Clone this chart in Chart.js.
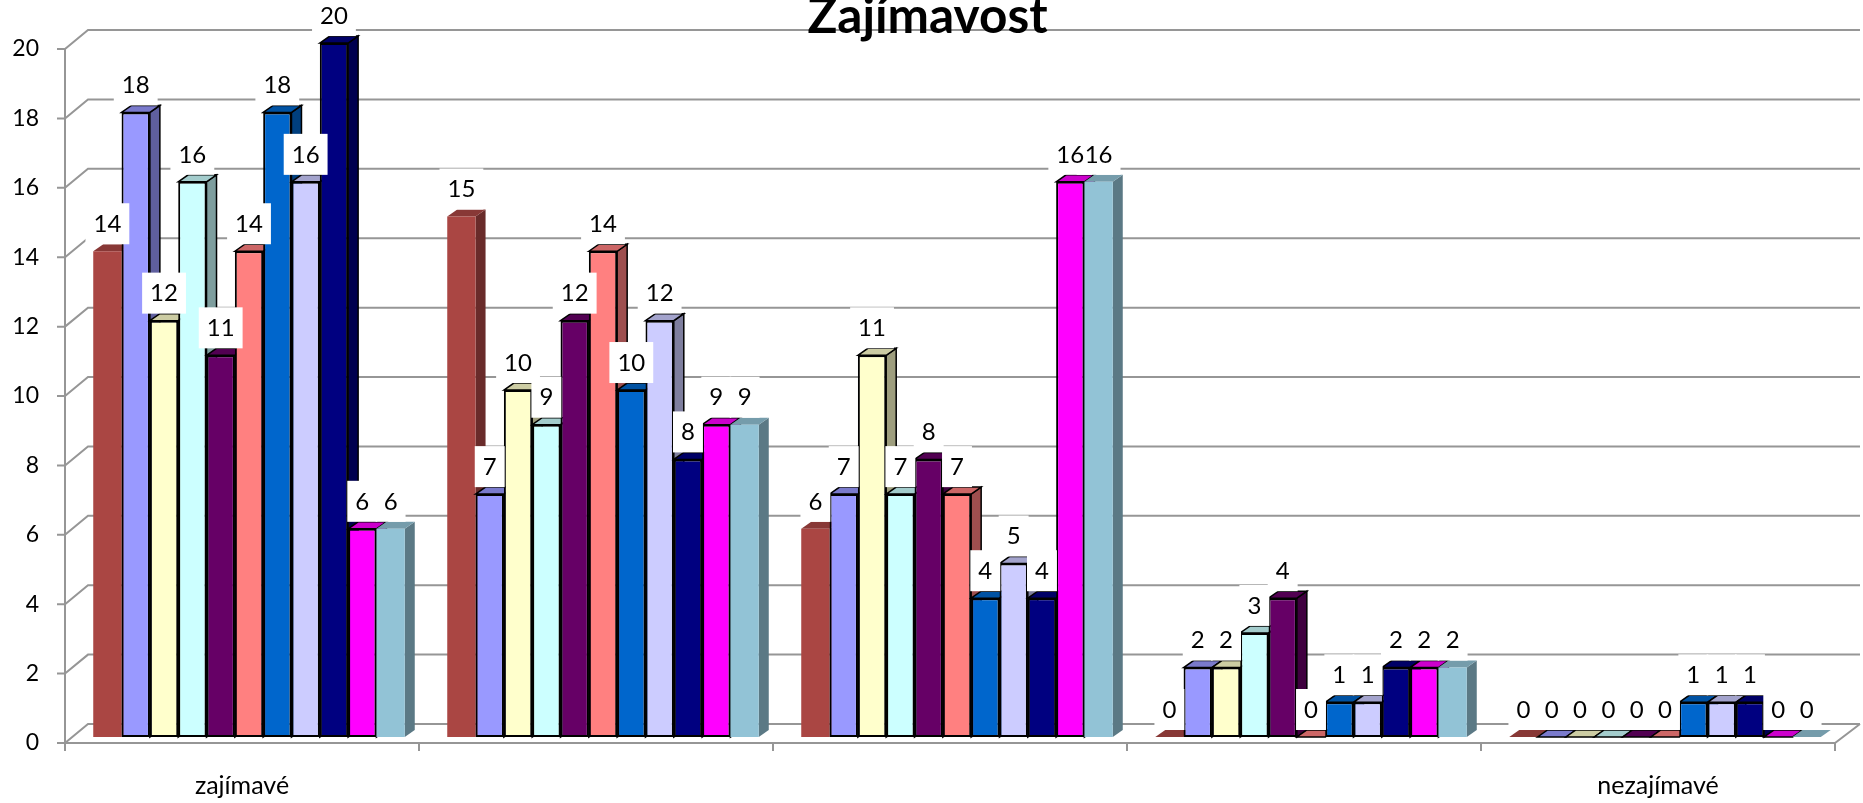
<!DOCTYPE html>
<html><head><meta charset="utf-8">
<style>html,body{margin:0;padding:0;background:#fff}#w{width:1863px;height:803px}</style>
<script src="https://cdn.jsdelivr.net/npm/chart.js@4"></script>
</head><body><div id="w"><canvas id="c" width="1863" height="803"></canvas></div>
<script>
const categories = ['zajímavé', '', '', '', 'nezajímavé'];
const chartTitle = 'Zajímavost';
const yTicks = [0, 2, 4, 6, 8, 10, 12, 14, 16, 18, 20];
const s1 = [14, 15, 6, 0, 0];
const s2 = [18, 7, 7, 2, 0];
const s3 = [12, 10, 11, 2, 0];
const s4 = [16, 9, 7, 3, 0];
const s5 = [11, 12, 8, 4, 0];
const s6 = [14, 14, 7, 0, 0];
const s7 = [18, 10, 4, 1, 1];
const s8 = [16, 12, 5, 1, 1];
const s9 = [20, 8, 4, 2, 1];
const s10 = [6, 9, 16, 2, 0];
const s11 = [6, 9, 16, 2, 0];
const allSeries = [s1, s2, s3, s4, s5, s6, s7, s8, s9, s10, s11];
const colors = ['#AA4643', '#9999FF', '#FFFFCC', '#CCFFFF', '#660066', '#FF8080', '#0066CC', '#CCCCFF', '#000080', '#FF00FF', '#92C3D6'];
const bordered = [false, true, true, true, true, true, true, true, true, true, false];

const FONT = 'Lato, Carlito, sans-serif';
const DX = 10, DY = 7;            // bar depth
const AX = -7, AY = 6;            // front axis offset from the bars' plane
const WX = 23, WY = -19;          // wall offset from the front axis
const GRID = '#969696';

function shade(hex, f) {
  const n = parseInt(hex.slice(1), 16);
  const c = [n >> 16 & 255, n >> 8 & 255, n & 255].map(v => Math.round(v * f));
  return `rgb(${c[0]},${c[1]},${c[2]})`;
}
function line(ctx, pts) {
  ctx.beginPath();
  pts.forEach((p, i) => i ? ctx.lineTo(p[0], p[1]) : ctx.moveTo(p[0], p[1]));
  ctx.stroke();
}
function poly(ctx, pts, fill, stroke) {
  ctx.beginPath();
  pts.forEach((p, i) => i ? ctx.lineTo(p[0], p[1]) : ctx.moveTo(p[0], p[1]));
  ctx.closePath();
  ctx.fillStyle = fill; ctx.fill();
  if (stroke) { ctx.strokeStyle = '#000'; ctx.lineWidth = 1.5; ctx.stroke(); }
}

const walls = {
  id: 'walls',
  beforeDraw(chart) {
    const { ctx, scales: { x, y } } = chart;
    const n = categories.length;
    const step = x.width / n;
    const x0 = x.left + AX, x1 = x.right + AX;
    ctx.save();
    ctx.strokeStyle = GRID; ctx.lineWidth = 2;
    yTicks.forEach(v => {
      const py = y.getPixelForValue(v) + AY;
      line(ctx, [[x0 - 8, py], [x0, py], [x0 + WX, py + WY], [x1 + WX + 2, py + WY]]);
    });
    const y0 = y.getPixelForValue(0) + AY;
    line(ctx, [[x0, y.getPixelForValue(20) + AY], [x0, y0 + 8]]);
    line(ctx, [[x0, y0], [x1, y0], [x1 + WX + 2, y0 + WY]]);
    for (let i = 1; i <= n; i++) {
      const px = x0 + step * i;
      line(ctx, [[px, y0], [px, y0 + 8]]);
    }
    ctx.restore();
  }
};

const bars3d = {
  id: 'bars3d',
  beforeDatasetsDraw(chart) {
    const { ctx } = chart;
    chart.data.datasets.forEach((ds, i) => {
      const meta = chart.getDatasetMeta(i);
      const base = colors[i], edge = bordered[i];
      ctx.save();
      meta.data.forEach(el => {
        const { x, y, base: by, width } = el.getProps(['x', 'y', 'base', 'width'], true);
        const l = x - width / 2, r = x + width / 2;
        poly(ctx, [[r, y], [r + DX, y - DY], [r + DX, by - DY], [r, by]], shade(base, 0.62), edge);
        poly(ctx, [[l, y], [l + DX, y - DY], [r + DX, y - DY], [r, y]], shade(base, 0.8), edge);
      });
      ctx.restore();
      meta.controller.draw();
    });
    return false;
  },
  afterDraw(chart) {
    const { ctx } = chart;
    ctx.save();
    ctx.font = '24px ' + FONT;
    ctx.textAlign = 'center';
    ctx.textBaseline = 'middle';
    const items = [];
    chart.data.datasets.forEach((ds, i) => {
      chart.getDatasetMeta(i).data.forEach((el, j) => {
        const { x, y } = el.getProps(['x', 'y'], true);
        items.push({ x, y, t: String(ds.data[j]) });
      });
    });
    ctx.fillStyle = '#fff';
    items.forEach(({ x, y, t }) => {
      const w = ctx.measureText(t).width + 16;
      ctx.fillRect(x - w / 2, y - 48, w, 41);
    });
    ctx.fillStyle = '#000';
    items.forEach(({ x, y, t }) => ctx.fillText(t, x, y - 27));
    ctx.restore();
  }
};

new Chart(document.getElementById('c'), {
  type: 'bar',
  data: {
    labels: categories,
    datasets: allSeries.map((d, i) => ({
      label: 'Série ' + (i + 1),
      data: d,
      backgroundColor: colors[i],
      borderColor: bordered[i] ? '#000' : colors[i],
      borderWidth: bordered[i] ? 2 : 0,
      borderSkipped: false,
      categoryPercentage: 0.88,
      barPercentage: 1
    }))
  },
  options: {
    responsive: false,
    animation: false,
    layout: { padding: { left: 13, right: 21, top: 0, bottom: 0 } },
    plugins: {
      legend: { display: false },
      tooltip: { enabled: false },
      title: {
        display: true, text: chartTitle, color: '#000',
        font: { family: FONT, size: 49.5, weight: 'bold', lineHeight: 0.87 },
        padding: { top: -5, bottom: 5 }
      }
    },
    scales: {
      x: {
        grid: { display: false }, border: { display: false },
        ticks: { color: '#000', font: { family: FONT, size: 25 }, autoSkip: false, maxRotation: 0, labelOffset: AX, padding: 26 },
        afterFit(s) { s.height = 66; }
      },
      y: {
        min: 0, max: 20,
        grid: { display: false }, border: { display: false },
        ticks: { color: '#000', stepSize: 2, font: { family: FONT, size: 23 }, labelOffset: AY, padding: 25 },
        afterFit(s) { s.width = 59; }
      }
    }
  },
  plugins: [walls, bars3d]
});
</script></body></html>
